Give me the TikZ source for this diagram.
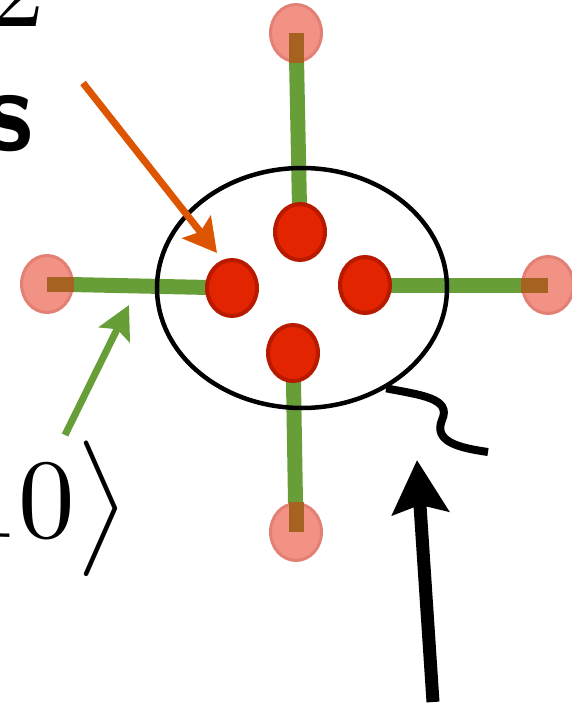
\documentclass[tikz,border=0pt]{standalone}
\usepackage{amsmath}
\usepackage{tikz}
\usetikzlibrary{arrows.meta,shapes.geometric}

\definecolor{verde}{RGB}{104,158,56}
\definecolor{rosa}{RGB}{241,146,132}
\definecolor{rosaborde}{RGB}{226,128,118}
\definecolor{rojo}{RGB}{227,36,0}
\definecolor{rojoborde}{RGB}{184,26,0}
\definecolor{marron}{RGB}{166,98,32}
\definecolor{naranja}{RGB}{221,85,0}

\tikzset{
  sitio/.style={ellipse,draw=rojoborde,fill=rojo,line width=4pt,
    minimum width=50pt,minimum height=56pt,inner sep=0pt},
  vecino/.style={ellipse,draw=rosaborde,fill=rosa,line width=3pt,
    minimum width=51pt,minimum height=57pt,inner sep=0pt},
  enlace/.style={verde,line width=15pt},
  solape/.style={marron,line width=15pt},
  celda/.style={ellipse,draw,line width=4.5pt,minimum width=290pt,
    minimum height=240pt,inner sep=0pt},
  grande/.style={scale=11.3,inner sep=0pt},
  letra/.style={scale=11.6,inner sep=0pt,font=\sffamily\bfseries}
}

\begin{document}
\begin{tikzpicture}[x=1pt,y=-1pt]
  \useasboundingbox (0,0) rectangle (572,706);
  \clip (0,0) rectangle (572,706);
  % posiciones de los sitios
  \coordinate (pT) at (296,33);
  \coordinate (pL) at (47,284);
  \coordinate (pR) at (548,285);
  \coordinate (pB) at (296,532);
  \coordinate (sT) at (300,232);
  \coordinate (sL) at (232,288);
  \coordinate (sR) at (365,285);
  \coordinate (sB) at (293,353);
  % enlaces
  \foreach \a/\b in {pT/sT,pL/sL,pR/sR,pB/sB}
    \draw[enlace] (\a) -- (\b);
  % celda
  \node[celda] (cell) at (302,288) {};
  % vecinos
  \node[vecino] (nT) at (pT) {};
  \node[vecino] (nL) at (pL) {};
  \node[vecino] (nR) at (pR) {};
  \node[vecino] (nB) at (pB) {};
  \draw[solape] (nT.center) -- (nT.south);
  \draw[solape] (nL.center) -- (nL.east);
  \draw[solape] (nR.center) -- (nR.west);
  \draw[solape] (nB.center) -- (nB.north);
  % sitios de la celda
  \node[sitio] (cT) at (sT) {};
  \node[sitio] (cL) at (sL) {};
  \node[sitio] (cR) at (sR) {};
  \node[sitio] (cB) at (sB) {};
  % onda
  \coordinate (onda) at (488,452);
  \draw[line width=8pt] (cell.-50) .. controls (420,395) and (452,398) .. (442,420)
    .. controls (433,442) and (460,448) .. (onda);
  % flechas
  \coordinate (naranja0) at (83,83);
  \coordinate (naranja1) at (217,253);
  \draw[naranja,line width=7pt,-{Stealth[length=33pt,width=36pt,inset=6pt]}]
    (naranja0) -- (naranja1);
  \coordinate (verde0) at (65,435);
  \coordinate (verde1) at (129,305);
  \draw[verde,line width=7pt,-{Stealth[length=33pt,width=34pt,inset=6pt]}]
    (verde0) -- (verde1);
  \coordinate (negra0) at (433,702);
  \coordinate (negra1) at (417,460);
  \draw[line width=13pt,-{Stealth[length=53pt,width=56pt,inset=8pt]}]
    (negra0) -- (negra1);
  % textos
  \node[grande,anchor=base west] (dos) at (-14,27) {$2$};
  \node[grande,anchor=base east] (ket) at (131,537) {$\big|10\big\rangle$};
  \node[letra,anchor=base east] (ese) at (36,150) {s};
\end{tikzpicture}
\end{document}
